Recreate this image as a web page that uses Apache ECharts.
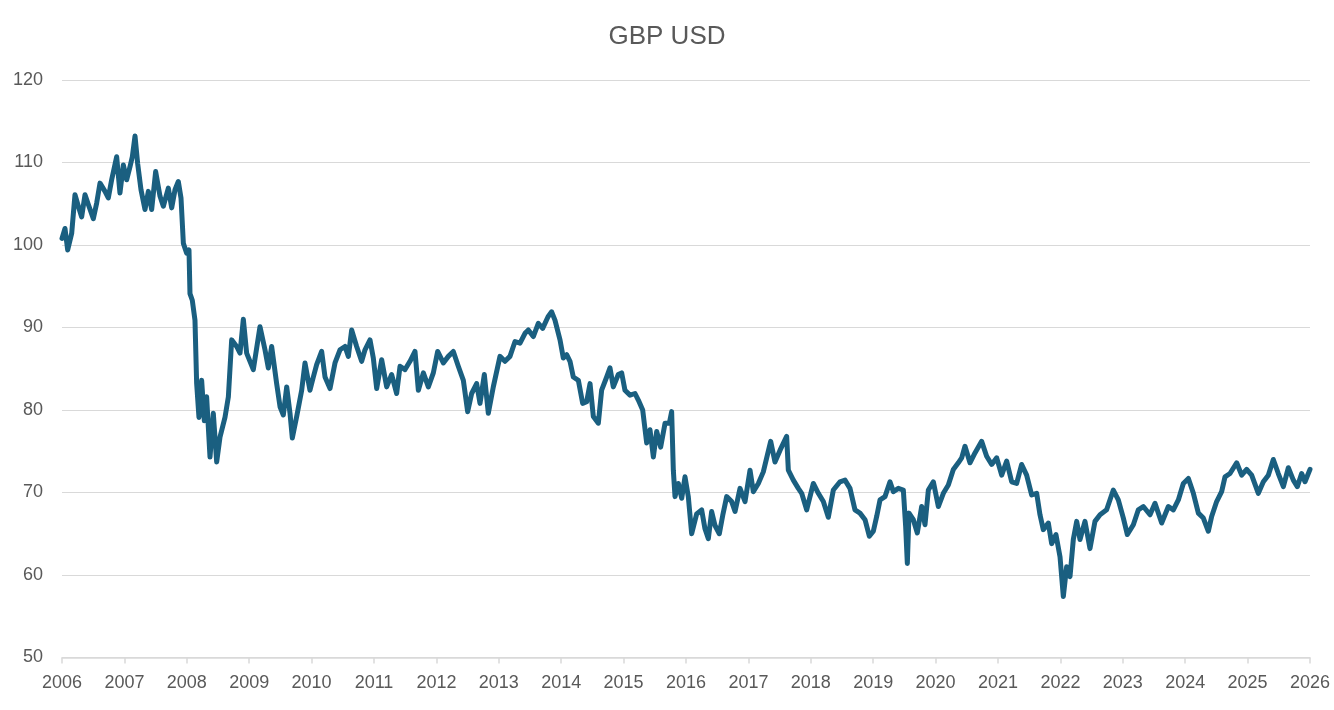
<!DOCTYPE html>
<html>
<head>
<meta charset="utf-8">
<title>GBP USD</title>
<script src="https://cdn.jsdelivr.net/npm/echarts@6/dist/echarts.min.js"></script>
<style>
  html, body { margin: 0; padding: 0; background: #fff; }
  #chart { width: 1334px; height: 710px; }
</style>
</head>
<body>
<div id="chart"></div>
<script>
// values (date as decimal year, index level)
var years = [
  2006.000, 2006.048, 2006.091, 2006.155, 2006.208, 2006.262, 2006.315, 2006.369, 2006.422, 2006.502,
  2006.556, 2006.609, 2006.689, 2006.742, 2006.796, 2006.876, 2006.929, 2006.983, 2007.036, 2007.090,
  2007.127, 2007.170, 2007.212, 2007.266, 2007.330, 2007.384, 2007.437, 2007.501, 2007.571, 2007.624,
  2007.704, 2007.758, 2007.811, 2007.864, 2007.907, 2007.945, 2007.998, 2008.035, 2008.051, 2008.088,
  2008.131, 2008.158, 2008.195, 2008.238, 2008.281, 2008.318, 2008.372, 2008.425, 2008.479, 2008.532,
  2008.612, 2008.666, 2008.719, 2008.799, 2008.853, 2008.906, 2008.959, 2008.986,
  2009.066, 2009.173, 2009.253, 2009.307, 2009.360, 2009.440, 2009.494, 2009.547, 2009.601, 2009.654,
  2009.691, 2009.761, 2009.841, 2009.894, 2009.974, 2010.028, 2010.081, 2010.161, 2010.215, 2010.295,
  2010.375, 2010.455, 2010.535, 2010.589, 2010.642, 2010.722, 2010.802, 2010.856, 2010.936, 2010.989,
  2011.043, 2011.123, 2011.203, 2011.283, 2011.363, 2011.417, 2011.497, 2011.577, 2011.657, 2011.711,
  2011.791, 2011.871, 2011.951, 2012.020, 2012.111, 2012.191, 2012.271, 2012.351, 2012.432, 2012.501,
  2012.565, 2012.645, 2012.699, 2012.768, 2012.832, 2012.912,
  2013.019, 2013.099, 2013.179, 2013.260, 2013.340, 2013.420, 2013.473, 2013.553, 2013.633, 2013.703,
  2013.789, 2013.847, 2013.900, 2013.981, 2014.034, 2014.088, 2014.141, 2014.194, 2014.275, 2014.344,
  2014.408, 2014.462, 2014.515, 2014.595, 2014.648, 2014.729, 2014.782, 2014.835, 2014.915, 2014.969,
  2015.022, 2015.103, 2015.183, 2015.236, 2015.306, 2015.370, 2015.423, 2015.477, 2015.530, 2015.594,
  2015.664, 2015.733, 2015.770, 2015.797, 2015.824, 2015.877, 2015.931, 2015.984, 2016.037, 2016.091,
  2016.171, 2016.251, 2016.304, 2016.358, 2016.411, 2016.465, 2016.534, 2016.588, 2016.652, 2016.732,
  2016.786, 2016.866, 2016.946, 2017.026, 2017.079, 2017.159, 2017.239, 2017.357, 2017.426, 2017.506,
  2017.613, 2017.640, 2017.720, 2017.800, 2017.854, 2017.934, 2018.041, 2018.121, 2018.201, 2018.281,
  2018.361, 2018.468,
  2018.548, 2018.628, 2018.708, 2018.788, 2018.869, 2018.938, 2019.002, 2019.056, 2019.109, 2019.189,
  2019.269, 2019.323, 2019.403, 2019.483, 2019.520, 2019.547, 2019.574, 2019.643, 2019.707, 2019.777,
  2019.830, 2019.884, 2019.964, 2020.044, 2020.124, 2020.204, 2020.284, 2020.364, 2020.418, 2020.471,
  2020.551, 2020.631, 2020.738, 2020.818, 2020.899, 2020.979, 2021.059, 2021.139, 2021.219, 2021.299,
  2021.379, 2021.459, 2021.539, 2021.620, 2021.673, 2021.726, 2021.807, 2021.860, 2021.929, 2021.994,
  2022.047, 2022.100, 2022.154, 2022.207, 2022.261, 2022.314, 2022.394, 2022.474, 2022.554, 2022.635,
  2022.741, 2022.848, 2022.928, 2023.009, 2023.073, 2023.169, 2023.249, 2023.329, 2023.436, 2023.516,
  2023.623, 2023.730, 2023.810, 2023.890, 2023.970, 2024.051, 2024.131, 2024.211, 2024.291, 2024.371,
  2024.424, 2024.504, 2024.584, 2024.638, 2024.718, 2024.825, 2024.905, 2024.985, 2025.065, 2025.172,
  2025.252, 2025.332, 2025.412, 2025.492, 2025.573, 2025.653, 2025.733, 2025.797, 2025.866, 2025.920,
  2026.000
];

var gbpUsd = [
  100.8, 102.0, 99.4, 101.4, 106.1, 104.7, 103.4, 106.1, 104.9, 103.2,
  105.1, 107.5, 106.5, 105.7, 107.9, 110.7, 106.3, 109.7, 107.9, 109.5,
  110.7, 113.2, 109.9, 106.7, 104.3, 106.5, 104.3, 108.9, 105.9, 104.7,
  106.9, 104.5, 106.7, 107.7, 105.7, 100.2, 99.0, 99.4, 94.1, 93.3,
  90.9, 83.2, 79.1, 83.6, 78.7, 81.6, 74.3, 79.6, 73.7, 76.7,
  79.1, 81.6, 88.5, 87.7, 86.9, 91.0, 86.9, 86.8,
  84.9, 90.1, 87.3, 85.1, 87.7, 83.2, 80.4, 79.4, 82.8, 79.6,
  76.6, 79.2, 82.4, 85.7, 82.4, 84.0, 85.5, 87.1, 84.0, 82.6,
  85.7, 87.3, 87.7, 86.5, 89.7, 87.7, 85.9, 87.3, 88.5, 86.3,
  82.6, 86.1, 82.8, 84.3, 82.0, 85.3, 84.9, 85.9, 87.1, 82.4,
  84.5, 82.8, 84.5, 87.1, 85.7, 86.5, 87.1, 85.3, 83.6, 79.8,
  82.0, 83.2, 80.8, 84.3, 79.6, 82.8,
  86.5, 85.9, 86.5, 88.3, 88.1, 89.3, 89.7, 88.9, 90.5, 89.9,
  91.3, 91.9, 90.9, 88.5, 86.3, 86.7, 85.9, 84.0, 83.6, 80.8,
  81.0, 83.2, 79.2, 78.4, 82.4, 84.0, 85.1, 82.8, 84.3, 84.5,
  82.4, 81.8, 82.0, 81.2, 80.0, 76.0, 77.6, 74.3, 77.4, 75.5,
  78.4, 78.4, 79.8, 72.7, 69.5, 71.1, 69.3, 71.9, 69.5, 65.0,
  67.4, 67.9, 65.6, 64.4, 67.7, 66.0, 65.0, 67.2, 69.5, 68.9,
  67.7, 70.5, 68.9, 72.7, 70.1, 71.1, 72.5, 76.2, 73.7, 75.1,
  76.8, 72.7, 71.5, 70.5, 69.9, 67.9, 71.1, 69.9, 68.9, 67.0,
  70.3, 71.3,
  71.5, 70.5, 67.9, 67.5, 66.7, 64.7, 65.3, 67.1, 69.1, 69.5,
  71.3, 70.1, 70.5, 70.3, 65.9, 61.4, 67.5, 66.7, 65.1, 68.3,
  66.1, 70.3, 71.3, 68.3, 69.9, 70.9, 72.8, 73.6, 74.2, 75.6,
  73.6, 74.8, 76.2, 74.4, 73.4, 74.2, 72.1, 73.8, 71.3, 71.1,
  73.4, 72.1, 69.7, 69.9, 67.3, 65.5, 66.3, 63.8, 64.9, 62.2,
  57.4, 61.0, 59.8, 64.3, 66.5, 64.3, 66.5, 63.2, 66.5, 67.3,
  67.9, 70.3, 69.1, 66.9, 64.9, 66.1, 67.9, 68.3, 67.3, 68.7,
  66.3, 68.3, 67.9, 69.1, 71.1, 71.7, 69.9, 67.5, 66.9, 65.3,
  67.1, 68.9, 70.1, 71.9, 72.3, 73.6, 72.1, 72.8, 72.1, 69.9,
  71.3, 72.1, 74.0, 72.3, 70.7, 73.0, 71.5, 70.7, 72.3, 71.3,
  72.8
];

var yTicks = { min: 50, max: 120, step: 10 };
var xTicks = { min: 2006, max: 2026, step: 1 };

var ink = '#595959';
var rule = '#d9d9d9';
var lineColor = '#1a5f80';
var font = 'Liberation Sans, Arial, sans-serif';

var chart = echarts.init(document.getElementById('chart'), null, { renderer: 'canvas' });

var seriesData = years.map(function (y, i) { return [y, gbpUsd[i]]; });

chart.setOption({
  animation: false,
  backgroundColor: '#fff',
  title: {
    text: 'GBP USD',
    left: 'center',
    top: 19,
    textStyle: { color: ink, fontSize: 26, fontWeight: 'normal', fontFamily: font }
  },
  grid: { left: 62, right: 24, top: 80, bottom: 52.5 },
  xAxis: {
    type: 'value',
    min: xTicks.min, max: xTicks.max, interval: xTicks.step,
    axisLine: { lineStyle: { color: rule, width: 1.5 } },
    axisTick: { show: true, length: 6, lineStyle: { color: rule, width: 1.5 } },
    axisLabel: {
      color: ink, fontSize: 18, margin: 17, fontFamily: font,
      formatter: function (v) { return String(Math.round(v)); }
    },
    splitLine: { show: false }
  },
  yAxis: {
    type: 'value',
    min: yTicks.min, max: yTicks.max, interval: yTicks.step,
    axisLine: { show: false },
    axisTick: { show: false },
    axisLabel: { color: ink, fontSize: 18, margin: 19, fontFamily: font },
    splitLine: { lineStyle: { color: rule, width: 1.2 } }
  },
  series: [
    {
      name: 'GBP USD',
      type: 'line',
      data: seriesData,
      symbol: 'none',
      lineStyle: { color: lineColor, width: 5, join: 'round', cap: 'round' },
      z: 3
    }
  ]
});
</script>
</body>
</html>
